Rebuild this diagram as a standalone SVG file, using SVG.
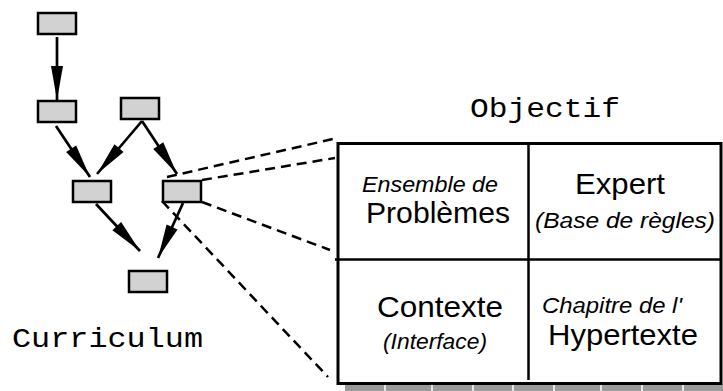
<svg xmlns="http://www.w3.org/2000/svg" width="723" height="391" viewBox="0 0 723 391">
<style>
.node rect{fill:#d2d2d2;stroke:#000;stroke-width:2.5}
.arrow{stroke:#000;stroke-width:2.7;fill:none;marker-end:url(#ah)}
.dash{stroke:#000;stroke-width:2.5;fill:none;stroke-dasharray:10 6}
.mono{font-family:"Liberation Mono","Courier New",monospace;font-size:27px;fill:#000}
.big{font-family:"Liberation Sans",Arial,sans-serif;font-size:30px;fill:#000}
.it{font-family:"Liberation Sans",Arial,sans-serif;font-size:22px;font-style:italic;fill:#000}
</style>
<defs>
<marker id="ah" markerUnits="userSpaceOnUse" markerWidth="36" markerHeight="14" viewBox="-35 -7 36 14" refX="0" refY="0" orient="auto">
<path d="M0,0 L-34,-6 L-34,6 Z" fill="#000"/>
</marker>
</defs>
<g id="connectors">
<line class="arrow" x1="57" y1="37" x2="57" y2="100"/>
<line class="arrow" x1="56" y1="126" x2="90" y2="177"/>
<line class="arrow" x1="142" y1="121" x2="97" y2="174"/>
<line class="arrow" x1="142" y1="121" x2="177" y2="174"/>
<line class="arrow" x1="96" y1="204" x2="140" y2="251"/>
<line class="arrow" x1="183" y1="203" x2="158" y2="258"/>
<line class="dash" x1="167" y1="177" x2="333" y2="139"/>
<line class="dash" x1="202" y1="180" x2="335" y2="158"/>
<line class="dash" x1="202" y1="202" x2="330" y2="250"/>
<line class="dash" x1="162" y1="201" x2="328" y2="377"/>
</g>
<g id="n1" class="node"><rect x="38" y="13" width="38" height="21"/></g>
<g id="n2" class="node"><rect x="38" y="101" width="38" height="21"/></g>
<g id="n3" class="node"><rect x="121" y="98" width="38" height="21"/></g>
<g id="n4" class="node"><rect x="73" y="181" width="38" height="21"/></g>
<g id="n5" class="node"><rect x="163" y="181" width="38" height="21"/></g>
<g id="n6" class="node"><rect x="129" y="271" width="38" height="21"/></g>
<g id="curriculum-label"><text class="mono" x="12" y="347" textLength="191" lengthAdjust="spacingAndGlyphs">Curriculum</text></g>
<g id="objectif">
<text class="mono" x="470" y="117" textLength="150" lengthAdjust="spacingAndGlyphs">Objectif</text>
<rect x="345" y="385" width="378" height="6" fill="#9a9a9a"/>
<g stroke="#fff" stroke-width="1.5">
<line x1="385" y1="385" x2="385" y2="391"/>
<line x1="432" y1="385" x2="432" y2="391"/>
<line x1="473" y1="385" x2="473" y2="391"/>
<line x1="513" y1="385" x2="513" y2="391"/>
<line x1="554" y1="385" x2="554" y2="391"/>
<line x1="601" y1="385" x2="601" y2="391"/>
<line x1="642" y1="385" x2="642" y2="391"/>
<line x1="683" y1="385" x2="683" y2="391"/>
</g>
<rect x="338" y="143.5" width="383" height="240" fill="#fff" stroke="#000" stroke-width="3"/>
<line x1="528.5" y1="142" x2="528.5" y2="380" stroke="#000" stroke-width="2.5"/>
<line x1="335" y1="259.5" x2="720" y2="259.5" stroke="#000" stroke-width="2.5"/>
</g>
<g id="cell-problemes">
<text class="it" x="362" y="192" textLength="136" lengthAdjust="spacingAndGlyphs">Ensemble de</text>
<text class="big" x="366" y="223" textLength="144" lengthAdjust="spacingAndGlyphs">Problèmes</text>
</g>
<g id="cell-expert">
<text class="big" x="575" y="194" textLength="90" lengthAdjust="spacingAndGlyphs">Expert</text>
<text class="it" x="535" y="228" textLength="180" lengthAdjust="spacingAndGlyphs">(Base de règles)</text>
</g>
<g id="cell-contexte">
<text class="big" x="377" y="317" textLength="126" lengthAdjust="spacingAndGlyphs">Contexte</text>
<text class="it" x="383" y="349" textLength="104" lengthAdjust="spacingAndGlyphs">(Interface)</text>
</g>
<g id="cell-hypertexte">
<text class="it" x="542" y="313" textLength="140" lengthAdjust="spacingAndGlyphs">Chapitre de l'</text>
<text class="big" x="548" y="345" textLength="150" lengthAdjust="spacingAndGlyphs">Hypertexte</text>
</g>
</svg>
